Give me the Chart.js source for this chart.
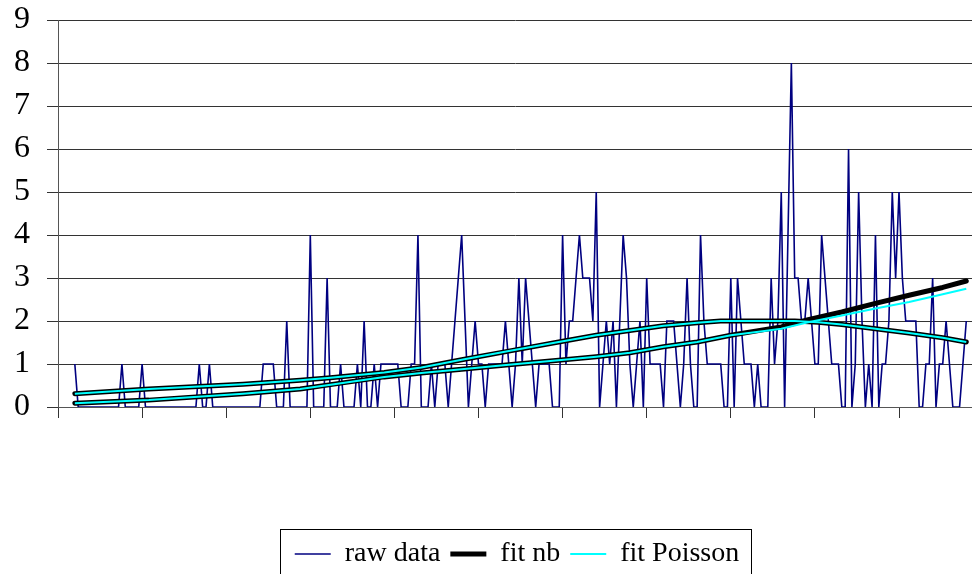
<!DOCTYPE html>
<html>
<head>
<meta charset="utf-8">
<script src="https://cdn.jsdelivr.net/npm/chart.js@4"></script>
<style>
  html, body { margin: 0; padding: 0; background: #fff; }
  #wrap { width: 972px; height: 574px; }
</style>
</head>
<body>
<div id="wrap"><canvas id="chart" width="972" height="574"></canvas></div>
<script>
// raw counts, one per observation, first observation sits at x = 5
const rawStart = 5;
const rawData = [
    1,0,0,0,0,0,0,0,0,0,
    0,0,0,0,1,0,0,0,0,0,
    1,0,0,0,0,0,0,0,0,0,
    0,0,0,0,0,0,0,1,0,0,
    1,0,0,0,0,0,0,0,0,0,
    0,0,0,0,0,0,1,1,1,1,
    0,0,0,2,0,0,0,0,0,0,
    4,0,0,0,0,3,0,0,0,1,
    0,0,0,0,1,0,2,0,0,1,
    0,1,1,1,1,1,1,0,0,0,
    1,1,4,0,0,0,1,0,1,1,
    1,0,1,2,3,4,2,0,1,2,
    1,1,0,1,1,1,1,1,2,1,
    0,1,3,1,3,2,1,0,1,1,
    1,1,0,0,0,4,1,2,2,3,
    4,3,3,3,2,5,0,1,2,1,
    2,0,2,4,3,1,0,1,2,0,
    3,1,1,1,1,0,2,2,2,1,
    0,1,3,1,0,0,4,2,1,1,
    1,1,1,0,0,3,0,3,2,1,
    1,1,0,1,0,0,0,3,1,2,
    5,0,4,8,3,3,2,2,3,2,
    1,1,4,3,2,1,1,1,0,0,
    6,0,1,5,2,0,1,0,4,0,
    1,1,2,5,3,5,3,2,2,2,
    2,0,0,1,1,3,0,1,1,2,
    1,0,0,0,1,2
];

// fitted curve that rises, levels off near 2 and falls (nb and Poisson coincide)
const fitUpperX = [5, 27, 55, 72, 81, 97, 108, 120, 134, 148, 160, 170, 180, 190, 197, 210, 219, 226, 233, 243, 253, 263, 270];
const fitUpperY = [0.31, 0.42, 0.53, 0.62, 0.68, 0.8, 0.92, 1.1, 1.3, 1.5, 1.67, 1.78, 1.89, 1.96, 2.0, 2.0, 2.0, 1.97, 1.92, 1.82, 1.72, 1.61, 1.51];

// fitted curve that keeps rising
const fitLowerX = [5, 27, 55, 72, 81, 97, 108, 120, 134, 148, 160, 170, 180, 190, 200, 210, 215, 223, 233, 243, 253, 263, 270];
const fitLowerNb = [0.09, 0.16, 0.31, 0.42, 0.52, 0.7, 0.79, 0.88, 0.98, 1.08, 1.17, 1.26, 1.4, 1.51, 1.67, 1.8, 1.86, 2.03, 2.21, 2.41, 2.6, 2.78, 2.93];
const fitLowerPoisson = [0.09, 0.16, 0.31, 0.42, 0.52, 0.7, 0.79, 0.88, 0.98, 1.08, 1.17, 1.26, 1.4, 1.51, 1.67, 1.77, 1.82, 1.97, 2.13, 2.29, 2.44, 2.62, 2.75];

const yTicks = [0, 1, 2, 3, 4, 5, 6, 7, 8, 9];

function toPoints(xs, ys) {
    return xs.map((x, i) => ({ x: x, y: ys[i] }));
}

// the legend row sits a little right of centre, with a frame round it
const LEGEND_SHIFT = 31;
const legendBox = {
    id: 'legendBox',
    afterLayout(chart) {
        const lg = chart.legend;
        if (!lg) return;
        lg.left += LEGEND_SHIFT;
        lg.right += LEGEND_SHIFT;
        (lg.legendHitBoxes || []).forEach(b => { b.left += LEGEND_SHIFT; });
    },
    afterDraw(chart) {
        const lg = chart.legend;
        if (!lg || !lg.legendHitBoxes || !lg.legendHitBoxes.length) return;
        const hb = lg.legendHitBoxes;
        const left = Math.min(...hb.map(b => b.left)) - 15;
        const right = Math.max(...hb.map(b => b.left + b.width)) + 11;
        const ctx = chart.ctx;
        ctx.save();
        ctx.strokeStyle = '#000';
        ctx.lineWidth = 1;
        ctx.strokeRect(Math.round(left) + 0.5, Math.round(lg.top) - 0.5, Math.round(right - left), 80);
        ctx.restore();
    }
};

const serif = 'Liberation Serif, Times New Roman, serif';

new Chart(document.getElementById('chart'), {
    type: 'line',
    data: {
        datasets: [{
            label: 'raw data',
            data: rawData.map((v, i) => ({ x: rawStart + i, y: v })),
            borderColor: '#000080',
            borderWidth: 1.6,
            pointRadius: 0,
            order: 3
        }, {
            label: 'fit nb',
            data: toPoints(fitLowerX, fitLowerNb),
            borderColor: '#000000',
            borderWidth: 5,
            borderCapStyle: 'round',
            borderJoinStyle: 'round',
            pointRadius: 0,
            order: 2
        }, {
            label: 'fit Poisson',
            data: toPoints(fitLowerX, fitLowerPoisson),
            borderColor: '#00FFFF',
            borderWidth: 2,
            pointRadius: 0,
            order: 1
        }, {
            label: 'fit nb (2)',
            data: toPoints(fitUpperX, fitUpperY),
            borderColor: '#000000',
            borderWidth: 5,
            borderCapStyle: 'round',
            borderJoinStyle: 'round',
            pointRadius: 0,
            order: 2
        }, {
            label: 'fit Poisson (2)',
            data: toPoints(fitUpperX, fitUpperY),
            borderColor: '#00FFFF',
            borderWidth: 2,
            pointRadius: 0,
            order: 1
        }]
    },
    options: {
        responsive: false,
        animation: false,
        devicePixelRatio: 1,
        layout: { padding: { top: 20, left: 0, right: 0, bottom: -4 } },
        plugins: {
            tooltip: { enabled: false },
            legend: {
                position: 'bottom',
                labels: {
                    filter: item => item.datasetIndex < 3,
                    sort: (a, b) => a.datasetIndex - b.datasetIndex,
                    usePointStyle: true,
                    pointStyle: 'line',
                    pointStyleWidth: 36,
                    padding: 10,
                    color: '#000',
                    font: { family: serif, size: 28 }
                }
            }
        },
        scales: {
            x: {
                type: 'linear',
                min: 0,
                max: 271.7,
                ticks: { display: false, stepSize: 25, includeBounds: false },
                grid: { drawOnChartArea: false, drawTicks: true, tickLength: 11, color: '#333' },
                border: { color: '#555', width: 1 },
                afterFit: scale => { scale.height = 123; }
            },
            y: {
                min: 0,
                max: 9,
                afterBuildTicks: scale => { scale.ticks = yTicks.map(v => ({ value: v })); },
                ticks: { color: '#000', padding: 17, autoSkip: false, font: { family: serif, size: 32 } },
                grid: { color: '#333', tickLength: 11 },
                border: { color: '#555', width: 1 },
                afterFit: scale => {
                    scale.width = 58;
                    scale.paddingTop = 0;
                    scale.paddingBottom = 0;
                }
            }
        }
    },
    plugins: [legendBox]
});
</script>
</body>
</html>
